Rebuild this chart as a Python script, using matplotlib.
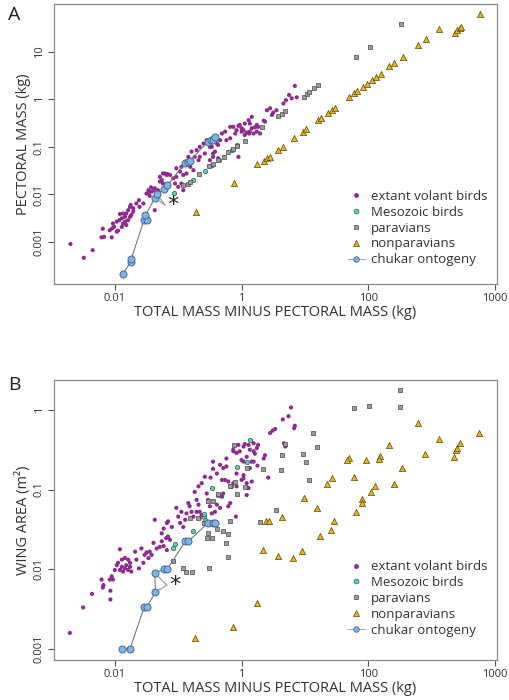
import numpy as np
import matplotlib
matplotlib.use('Agg')
import matplotlib.pyplot as plt
from matplotlib.lines import Line2D

plt.rcParams['font.family'] = ['Open Sans', 'DejaVu Sans']

# values are log10 of the plotted quantities
# ---------- panel A : pectoral mass vs total mass minus pectoral ----------
a_extant_x = [-2.70, -2.49, -2.35, -2.19, -2.21, -2.17, -2.05, -2.08, -2.04, -2.01, -2.03, -1.97, -1.93, -1.89,
              -1.92, -1.87, -1.82, -1.79, -1.76, -1.71, -1.66, -1.75, -1.61, -1.55, -1.47, -1.42, -1.45, -1.37,
              -1.32, -1.29, -1.24, -1.21, -1.17, -1.37, -1.97, -1.95, -1.89, -1.87, -1.84, -1.82, -1.79, -1.76,
              -1.84, -1.74, -1.71, -1.50, -1.29, -1.24, -1.18, -1.13, -1.03, -0.97, -0.95, -0.84, -0.79, -0.71,
              -0.74, -0.66, -0.60, -0.55, -0.50, -0.45, -0.39, -0.34, -0.31, -0.26, -0.18, -0.13, -0.08, -0.03,
              0.05, 0.11, 0.16, 0.16, 0.19, 0.13, 0.24, -0.05, 0.00, 0.08, -0.10, -0.24, -0.18, -0.37, -0.47,
              -0.42, -0.45, -0.50, -0.37, -0.05, -0.58, -0.66, -0.68, -0.81, -0.76, -0.87, -0.92, -1.03, -1.08,
              -1.05, -1.26, -1.39, -0.92, -0.95, -1.00, 0.13, 0.26, 0.24, 0.29, 0.37, 0.40, 0.45, 0.50, 0.55,
              0.48, 0.66, 0.70, 0.75, 0.79, 0.84, 0.87, 0.35, 0.03, 0.00, 0.21, 0.05, 0.12, -1.47, -1.43, -1.62]
a_extant_y = [-3.04, -3.33, -3.17, -2.72, -2.90, -2.89, -2.90, -2.75, -2.71, -2.68, -2.61, -2.57, -2.54, -2.50,
              -2.41, -2.40, -2.40, -2.33, -2.26, -2.29, -2.19, -2.22, -2.26, -2.19, -1.98, -1.94, -2.03, -1.87,
              -1.91, -1.73, -1.77, -1.56, -1.57, -2.33, -2.78, -2.76, -2.68, -2.61, -2.57, -2.64, -2.54, -2.47,
              -2.47, -2.43, -2.36, -1.98, -1.63, -1.56, -1.59, -1.59, -1.45, -1.52, -1.42, -1.21, -1.10, -1.07,
              -1.21, -1.00, -0.93, -0.86, -1.00, -1.14, -0.93, -0.86, -0.72, -0.68, -0.58, -0.58, -0.65, -0.54,
              -0.51, -0.44, -0.37, -0.61, -0.72, -0.51, -0.54, -0.56, -0.61, -0.70, -0.72, -0.86, -0.82, -0.96,
              -1.00, -1.10, -1.21, -1.28, -1.24, -1.21, -1.14, -1.21, -1.28, -1.42, -1.49, -1.56, -1.59, -1.63,
              -1.66, -1.77, -1.70, -1.91, -1.91, -1.77, -1.84, -0.68, -0.58, -0.68, -0.72, -0.47, -0.23, -0.19,
              -0.28, -0.23, -0.33, -0.09, -0.02, 0.09, 0.02, 0.28, 0.04, -0.45, -0.65, -0.68, -0.59, -0.75, -0.72,
              -1.91, -1.85, -2.12]

a_meso_x = [-1.06, -0.76, -0.58, -0.47, -0.36, -0.15, -0.07]
a_meso_y = [-1.97, -1.69, -1.50, -1.38, -1.28, -1.07, -0.96]

a_parav_x = [-0.92, -0.85, -0.82, -0.67, -0.52, -0.45, -0.37, -0.28, -0.21, -0.13, -0.07, 0.06, 0.32, 0.58,
             0.63, 0.68, 0.98, 1.03, 1.07, 1.15, 1.21, 1.80, 2.03, 2.51]
a_parav_y = [-1.80, -1.77, -1.73, -1.58, -1.40, -1.36, -1.28, -1.21, -1.11, -1.04, -0.98, -0.87, -0.59, -0.35,
             -0.30, -0.24, 0.05, 0.12, 0.16, 0.23, 0.30, 0.88, 1.10, 1.59]

a_nonpar_x = [-0.72, -0.12, 0.25, 0.35, 0.40, 0.45, 0.58, 0.65, 0.82, 0.97, 1.01, 1.21, 1.25, 1.37, 1.42, 1.48,
              1.69, 1.78, 1.82, 1.91, 1.98, 2.06, 2.12, 2.20, 2.33, 2.41, 2.54, 2.79, 2.91, 3.12, 3.36, 3.40,
              3.44, 3.46, 3.76]
a_nonpar_y = [-2.37, -1.75, -1.37, -1.29, -1.24, -1.21, -1.07, -1.00, -0.82, -0.68, -0.63, -0.44, -0.40, -0.28,
              -0.23, -0.19, 0.05, 0.14, 0.18, 0.26, 0.33, 0.40, 0.47, 0.54, 0.70, 0.77, 0.89, 1.14, 1.26, 1.47,
              1.40, 1.45, 1.49, 1.51, 1.80]

a_chukar_x = [-1.87, -1.75, -1.74, -1.54, -1.49, -1.52, -1.37, -1.34, -1.22, -1.17, -0.89, -0.84, -0.82,
              -0.53, -0.49, -0.45, -0.42]
a_chukar_y = [-3.66, -3.41, -3.35, -2.54, -2.54, -2.44, -2.08, -1.99, -1.88, -1.81, -1.33, -1.31, -1.30,
              -0.89, -0.86, -0.85, -0.79]
a_star = (-1.21, -2.22)        # apex of the asterisk wedge
a_star_links = [6, 7]          # chukar points joined to the asterisk

# ---------- panel B : wing area vs total mass minus pectoral ----------
b_extant_x = [-2.71, -2.50, -2.36, -2.21, -2.18, -2.19, -2.07, -2.07, -2.05, -2.03, -2.08, -2.00, -1.97, -1.95,
              -1.92, -1.89, -1.87, -1.84, -1.82, -1.79, -1.76, -1.74, -1.92, -1.89, -1.84, -1.79, -1.76, -1.68,
              -1.66, -1.62, -1.58, -1.55, -1.53, -1.50, -1.45, -1.42, -1.47, -1.37, -1.39, -1.34, -1.29, -1.26,
              -1.23, -1.18, -1.26, -1.23, -1.19, -1.16, -1.13, -1.16, -1.18, -1.10, -1.03, -1.00, -0.95, -0.97,
              -0.92, -0.89, -0.87, -0.84, -0.82, -0.79, -0.76, -0.71, -0.68, -0.66, -0.71, -0.66, -0.63, -0.74,
              -0.68, -0.63, -0.58, -0.49, -0.55, -0.53, -0.50, -0.47, -0.42, -0.39, -0.34, -0.31, -0.29, -0.21,
              -0.18, -0.45, -0.39, -0.29, -0.34, -0.24, -0.31, -0.26, -0.21, -0.13, -0.08, -0.45, -0.24, -0.13,
              -0.08, -0.03, 0.00, 0.03, 0.00, 0.03, 0.08, 0.11, 0.08, 0.11, 0.13, 0.19, 0.24, 0.26, 0.13, 0.19,
              0.05, -0.09, 0.78, 0.74, 0.65, 0.84, 0.83, 0.53, 0.49, 0.45, 0.21, 0.37, 0.35, 0.69, 0.67, 0.25,
              0.42, 0.16, -0.05, 0.03, 0.19, 0.08, 0.16, -0.08, 0.03, -0.13]
b_extant_y = [-2.80, -2.48, -2.31, -2.13, -2.20, -2.23, -2.27, -2.38, -2.09, -2.13, -2.13, -2.01, -1.95, -1.92,
              -2.01, -1.97, -2.03, -1.99, -1.95, -2.01, -1.97, -2.03, -1.75, -1.88, -1.86, -1.88, -1.92, -1.78,
              -1.88, -1.99, -1.74, -1.92, -1.82, -1.79, -1.78, -1.82, -1.86, -1.38, -1.67, -1.74, -1.72, -1.65,
              -1.71, -1.76, -1.55, -1.49, -1.61, -1.59, -1.63, -1.40, -1.42, -1.47, -1.23, -1.34, -1.28, -1.42,
              -1.47, -1.38, -1.30, -1.17, -1.21, -1.28, -1.34, -1.13, -1.19, -1.28, -1.28, -1.36, -1.32, -1.03,
              -0.96, -0.92, -0.84, -0.85, -1.05, -1.13, -1.21, -1.30, -1.28, -1.19, -1.23, -1.09, -1.05, -1.21,
              -1.17, -0.74, -0.80, -0.73, -0.69, -0.71, -0.88, -0.88, -0.90, -0.92, -0.96, -0.65, -0.61, -0.52,
              -0.54, -0.52, -0.63, -0.65, -0.88, -0.86, -0.92, -0.98, -1.07, -0.44, -0.50, -0.52, -0.48, -0.44,
              -0.73, -0.65, -0.43, -1.34, 0.03, -0.08, -0.12, -0.20, -0.23, -0.24, -0.26, -0.29, -0.55, -0.57,
              -0.61, -0.46, -0.42, -0.70, -0.85, -0.90, -0.44, -0.46, -0.42, -0.59, -0.65, -0.80, -0.82, -0.50]

b_meso_x = [-1.05, -1.08, -0.76, -0.60, -0.58, -0.59, -0.47, -0.37, -0.16, -0.07, 0.09, 0.13]
b_meso_y = [-1.69, -1.74, -1.52, -1.34, -1.38, -1.31, -0.98, -1.07, -0.96, -0.72, -0.65, -0.38]

b_parav_x = [-1.08, -0.93, -0.87, -0.79, -0.51, -0.82, -0.68, -0.55, -0.47, -0.53, -0.30, -0.22, -0.18, -0.53,
             -0.45, -0.37, -0.10, -0.08, 0.05, -0.12, -0.59, -0.39, -0.24, -0.22, -0.18, 0.08, 0.29, 0.33, 0.62,
             0.63, 0.68, 0.97, 1.01, 1.06, 1.13, 1.19, 0.55, 1.78, 2.01, 2.50, 2.50]
b_parav_y = [-1.90, -1.98, -2.03, -2.03, -1.98, -1.36, -1.36, -1.61, -1.61, -1.55, -1.52, -1.56, -1.40, -1.14,
             -1.14, -1.05, -0.90, -1.05, -0.97, -0.44, -1.42, -1.49, -1.67, -1.85, -0.96, -0.73, -1.41, -0.74,
             -0.75, -0.57, -0.43, -0.55, -0.65, -0.88, -0.29, -0.46, -1.26, 0.02, 0.05, 0.25, 0.03]

b_nonpar_x = [-0.73, -0.13, 0.24, 0.34, 0.57, 0.81, 0.95, 0.38, 0.43, 0.64, 0.99, 1.19, 1.23, 1.41, 1.46, 1.34,
              1.43, 1.77, 1.80, 1.90, 1.90, 2.04, 2.11, 2.40, 2.53, 1.69, 1.67, 1.97, 2.18, 2.17, 2.32, 2.78,
              2.89, 3.11, 3.35, 3.38, 3.40, 3.44, 3.75]
b_nonpar_y = [-2.87, -2.73, -2.43, -1.76, -1.83, -1.86, -1.77, -1.40, -1.40, -1.35, -1.11, -1.23, -1.58, -1.51,
              -1.39, -0.93, -0.85, -0.84, -1.28, -1.12, -1.17, -1.03, -0.95, -0.93, -0.73, -0.61, -0.63, -0.63,
              -0.58, -0.62, -0.44, -0.16, -0.55, -0.37, -0.59, -0.51, -0.48, -0.42, -0.29]

b_chukar_x = [-1.88, -1.76, -1.54, -1.50, -1.36, -1.37, -1.22, -1.17, -0.89, -0.84, -0.53, -0.45, -0.42]
b_chukar_y = [-3.00, -3.00, -2.48, -2.48, -2.29, -2.05, -2.00, -2.00, -1.65, -1.65, -1.42, -1.42, -1.42]
b_star = (-1.18, -2.20)
b_star_links = [4, 5]

x_ticks = [1e-2, 1, 1e2, 1e4]
x_tick_labels = ['0.01', '1', '100', '1000']
a_y_ticks = [1e-3, 1e-2, 1e-1, 1, 10]
a_y_tick_labels = ['0.001', '0.01', '0.1', '1', '10']
b_y_ticks = [1e-3, 1e-2, 1e-1, 1]
b_y_tick_labels = ['0.001', '0.01', '0.1', '1']

legend_labels = ['extant volant birds', 'Mesozoic birds', 'paravians', 'nonparavians', 'chukar ontogeny']

PURPLE = '#8e2b8e'
TEAL = '#5fcfb4'
GREY = '#9b9b9b'
GOLD = '#e8b31c'
BLUE = '#7fb2e5'
TXT = '#333333'


def p(v):
    return 10 ** np.asarray(v)


def panel(ax, ex, ey, mx, my, px, py, nx, ny, cx, cy, star, links, yticks, ylabels, ylim, ylabel, leg_y):
    ax.scatter(p(ex), p(ey), s=9, color=PURPLE, edgecolors='none', zorder=3)
    ax.scatter(p(mx), p(my), s=10, color=TEAL, edgecolors='#2f5f55', linewidths=0.5, zorder=3)
    ax.scatter(p(px), p(py), s=12, marker='s', color=GREY, edgecolors='#4a4a4a', linewidths=0.5, zorder=3)
    ax.scatter(p(nx), p(ny), s=20, marker='^', color=GOLD, edgecolors='#5a4a10', linewidths=0.5, zorder=3)
    ax.plot(p(cx), p(cy), color='#7a7a7a', lw=0.8, zorder=4)
    for i in links:
        ax.plot(p([cx[i], star[0]]), p([cy[i], star[1]]), color='#9a9a9a', lw=0.8, zorder=4)
    ax.scatter(p(cx), p(cy), s=26, color=BLUE, edgecolors='#3c5d85', linewidths=0.6, zorder=5)
    ax.text(p(star[0]) * 1.08, p(star[1]), '*', fontsize=16, ha='left', va='center', color='#222222',
            family='DejaVu Sans')

    ax.set_xscale('log')
    ax.set_yscale('log')
    ax.set_xlim(10 ** -2.96, 10 ** 4.03)
    ax.set_ylim(*ylim)
    ax.set_xticks(x_ticks)
    ax.set_xticklabels(x_tick_labels)
    ax.set_yticks(yticks)
    ax.set_yticklabels(ylabels, rotation=90, va='center')
    ax.minorticks_off()
    ax.tick_params(labelsize=8, colors='#555555', labelcolor=TXT, length=4, width=0.8, pad=2.5)
    for s in ax.spines.values():
        s.set_color('#8a8a8a')
        s.set_linewidth(0.9)
    ax.set_xlabel('TOTAL MASS MINUS PECTORAL MASS (kg)', fontsize=10.5, color=TXT, labelpad=1)
    ax.set_ylabel(ylabel, fontsize=10.5, color=TXT, labelpad=2)

    handles = [
        Line2D([], [], ls='none', marker='o', ms=3.5, color=PURPLE, mec='none'),
        Line2D([], [], ls='none', marker='o', ms=3.5, color=TEAL, mec='#2f5f55', mew=0.5),
        Line2D([], [], ls='none', marker='s', ms=3.5, color=GREY, mec='#4a4a4a', mew=0.5),
        Line2D([], [], ls='none', marker='^', ms=4, color=GOLD, mec='#5a4a10', mew=0.5),
        Line2D([], [], ls='-', lw=0.8, color='#aaaaaa', marker='o', ms=4, mfc=BLUE, mec='#3c5d85', mew=0.5),
    ]
    ax.legend(handles, legend_labels, loc='lower right', bbox_to_anchor=(1.0, leg_y), frameon=False,
              fontsize=9.5, labelcolor=TXT, handlelength=1.3, handletextpad=0.5, labelspacing=0.22,
              borderaxespad=0.3)


fig = plt.figure(figsize=(5.1, 7.0), dpi=100)
ax_a = fig.add_axes([54 / 510, 1 - 284 / 700, 443 / 510, 280 / 700])
ax_b = fig.add_axes([54 / 510, 1 - 660 / 700, 443 / 510, 280 / 700])

panel(ax_a, a_extant_x, a_extant_y, a_meso_x, a_meso_y, a_parav_x, a_parav_y, a_nonpar_x, a_nonpar_y,
      a_chukar_x, a_chukar_y, a_star, a_star_links, a_y_ticks, a_y_tick_labels,
      (10 ** -3.88, 10 ** 2.0), 'PECTORAL MASS (kg)', 0.03)
panel(ax_b, b_extant_x, b_extant_y, b_meso_x, b_meso_y, b_parav_x, b_parav_y, b_nonpar_x, b_nonpar_y,
      b_chukar_x, b_chukar_y, b_star, b_star_links, b_y_ticks, b_y_tick_labels,
      (10 ** -3.14, 10 ** 0.375), 'WING AREA (m\u00b2)', 0.05)

fig.text(8 / 510, 1 - 15 / 700, 'A', fontsize=14, color='#222222', va='center', ha='left')
fig.text(8 / 510, 1 - 385 / 700, 'B', fontsize=14, color='#222222', va='center', ha='left')

fig.savefig('out.png', dpi=100)
